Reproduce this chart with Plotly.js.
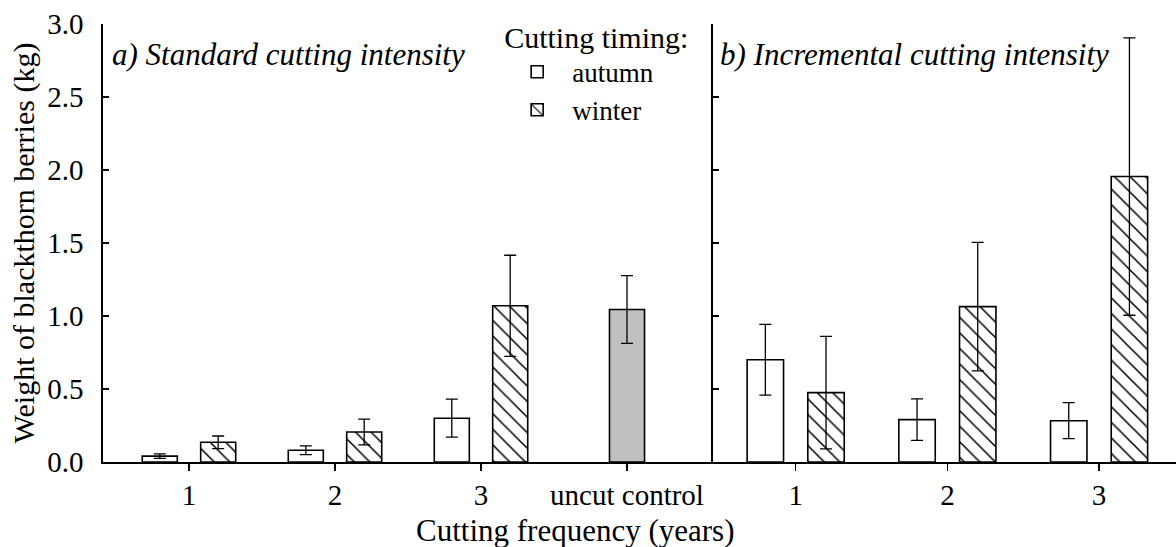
<!DOCTYPE html>
<html>
<head>
<meta charset="utf-8">
<script src="https://cdn.plot.ly/plotly-3.0.1.min.js"></script>
</head>
<body style="margin:0;background:#fff">
<div style="position:absolute;left:0;top:0;visibility:hidden;font-size:30px;white-space:nowrap">
  <span style="font-family:'Liberation Serif'">Weight of blackthorn berries (kg) 0.5 1.0 uncut control Cutting timing: autumn winter</span>
  <span style="font-family:'Liberation Serif';font-style:italic">a) Standard cutting intensity b) Incremental</span>
</div>
<div id="chart" style="width:1176px;height:547px"></div>
<script>
// Categories
const leftCats = ['1', '2', '3', 'uncut control'];
const freqCats = ['1', '2', '3'];
const controlCat = ['uncut control'];

// a) Standard cutting intensity
const stdAutumn = [0.04, 0.08, 0.30];
const stdAutumnErr = [0.015, 0.03, 0.13];
const stdWinter = [0.135, 0.205, 1.07];
const stdWinterErr = [0.043, 0.088, 0.346];
const controlVal = [1.045];
const controlErr = [0.232];

// b) Incremental cutting intensity
const incAutumn = [0.70, 0.29, 0.283];
const incAutumnErr = [0.242, 0.142, 0.123];
const incWinter = [0.475, 1.064, 1.955];
const incWinterErr = [0.385, 0.44, 0.95];

const yTicks = [0, 0.5, 1.0, 1.5, 2.0, 2.5, 3.0];

const FONT = 'Liberation Serif';
const hatch = {shape: '\\', size: 11, solidity: 0.14, fgcolor: '#000', bgcolor: '#fff', fillmode: 'replace'};
const outline = {color: '#000', width: 1.6};
function err(a) { return {type: 'data', array: a, visible: true, color: '#000', thickness: 1.3, width: 6}; }

const traces = [
  {type: 'bar', name: 'autumn', legendgroup: 'autumn', x: freqCats, y: stdAutumn, error_y: err(stdAutumnErr),
   xaxis: 'x', yaxis: 'y', offset: -0.32, width: 0.24, marker: {color: '#fff', line: outline}},
  {type: 'bar', name: 'winter', legendgroup: 'winter', x: freqCats, y: stdWinter, error_y: err(stdWinterErr),
   xaxis: 'x', yaxis: 'y', offset: 0.08, width: 0.24, marker: {color: '#fff', pattern: hatch, line: outline}},
  {type: 'bar', name: 'uncut control', showlegend: false, x: controlCat, y: controlVal, error_y: err(controlErr),
   xaxis: 'x', yaxis: 'y', offset: -0.12, width: 0.24, marker: {color: '#c0c0c0', line: outline}},
  {type: 'bar', name: 'autumn', legendgroup: 'autumn', showlegend: false, x: freqCats, y: incAutumn, error_y: err(incAutumnErr),
   xaxis: 'x2', yaxis: 'y2', offset: -0.32, width: 0.24, marker: {color: '#fff', line: outline}},
  {type: 'bar', name: 'winter', legendgroup: 'winter', showlegend: false, x: freqCats, y: incWinter, error_y: err(incWinterErr),
   xaxis: 'x2', yaxis: 'y2', offset: 0.08, width: 0.24, marker: {color: '#fff', pattern: hatch, line: outline}}
];

const split = 0.5685;
const xCommon = {type: 'category', ticks: 'outside', ticklen: 7, tickwidth: 1.3, tickcolor: '#000',
  showline: true, linecolor: '#000', linewidth: 1.6, showgrid: false, zeroline: false,
  tickfont: {family: FONT, size: 29, color: '#000'}, fixedrange: true};
const yCommon = {range: [0, 3], tickvals: yTicks, ticks: 'inside', ticklen: 6, tickwidth: 1.3, tickcolor: '#000',
  showline: true, linecolor: '#000', linewidth: 1.6, showgrid: false, zeroline: false, fixedrange: true};

const layout = {
  width: 1176, height: 547,
  margin: {l: 103, r: 0, t: 24, b: 85},
  paper_bgcolor: '#fff', plot_bgcolor: '#fff',
  font: {family: FONT, color: '#000'},
  barmode: 'overlay',
  showlegend: true,
  xaxis: Object.assign({}, xCommon, {domain: [0, split], anchor: 'y', categoryarray: leftCats, categoryorder: 'array', range: [-0.589, 3.589]}),
  xaxis2: Object.assign({}, xCommon, {domain: [split, 1], anchor: 'y2', categoryarray: freqCats, categoryorder: 'array', range: [-0.545, 2.507]}),
  yaxis: Object.assign({}, yCommon, {anchor: 'x', tickformat: '.1f', ticklabelstandoff: 12,
    tickfont: {family: FONT, size: 29, color: '#000'},
    title: {text: 'Weight of blackthorn berries (kg)', font: {family: FONT, size: 30, color: '#000'}, standoff: 4}}),
  yaxis2: Object.assign({}, yCommon, {anchor: 'x2', showticklabels: false}),
  legend: {x: 0.372, xanchor: 'left', y: 1.035, yanchor: 'top', bgcolor: 'rgba(0,0,0,0)',
    font: {family: FONT, size: 27, color: '#000'}, tracegroupgap: 0, itemwidth: 60,
    title: {text: 'Cutting timing:', side: 'top', font: {family: FONT, size: 30, color: '#000'}}},
  annotations: [
    {text: 'a) Standard cutting intensity', xref: 'paper', yref: 'paper', x: 0.0065, y: 0.93, xanchor: 'left', yanchor: 'middle',
     showarrow: false, font: {family: FONT, size: 31, color: '#000', style: 'italic'}},
    {text: 'b) Incremental cutting intensity', xref: 'paper', yref: 'paper', x: 0.5735, y: 0.93, xanchor: 'left', yanchor: 'middle',
     showarrow: false, font: {family: FONT, size: 31, color: '#000', style: 'italic'}},
    {text: 'Cutting frequency (years)', xref: 'paper', yref: 'paper', x: 0.44, y: -0.157, xanchor: 'center', yanchor: 'middle',
     showarrow: false, font: {family: FONT, size: 31, color: '#000'}}
  ]
};

const config = {staticPlot: true, displayModeBar: false};
Plotly.newPlot('chart', traces, layout, config);
if (document.fonts && document.fonts.load) {
  Promise.all([
    document.fonts.load('30px "Liberation Serif"'),
    document.fonts.load('italic 30px "Liberation Serif"')
  ]).then(function () { return document.fonts.ready; })
    .then(function () { Plotly.newPlot('chart', traces, layout, config); })
    .catch(function () {});
}
</script>
</body>
</html>
